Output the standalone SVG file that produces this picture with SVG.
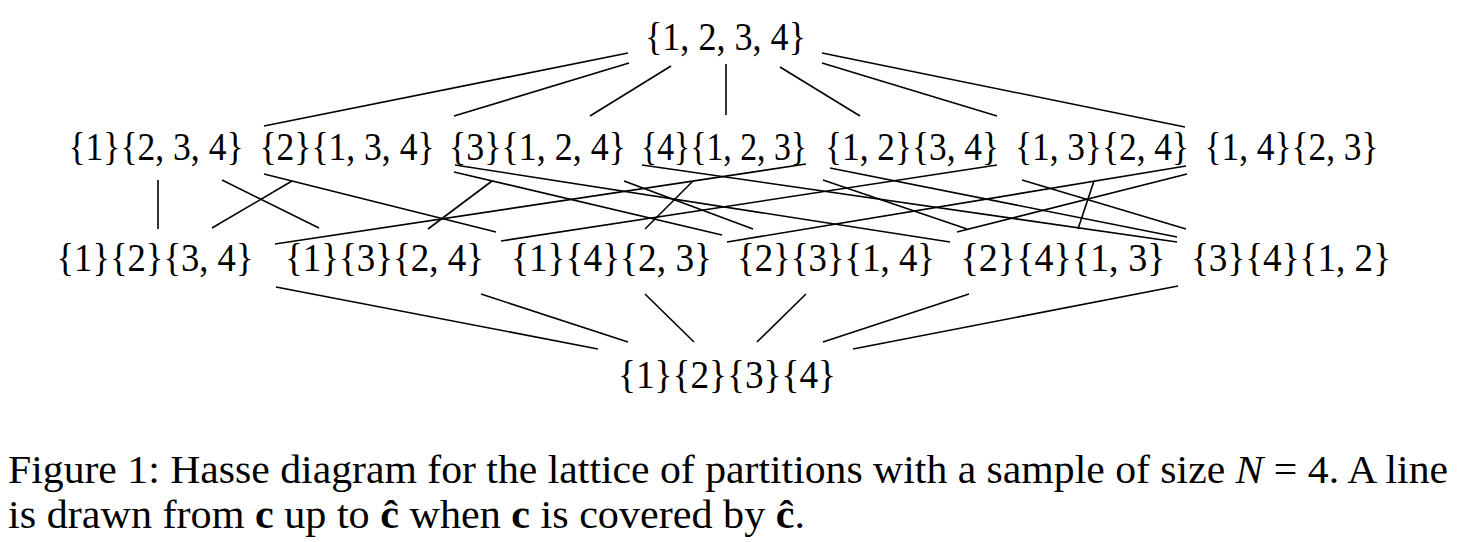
<svg xmlns="http://www.w3.org/2000/svg" width="1462" height="542" viewBox="0 0 1462 542">
<style>
.n{font-family:"Liberation Serif","DejaVu Serif",serif;font-size:40px;fill:#000;text-anchor:middle}
.cap{font-family:"Liberation Serif","DejaVu Serif",serif;font-size:39px;fill:#000}
.e{stroke:#000;stroke-width:1.6;fill:none;stroke-linecap:butt}
</style>
<rect x="0" y="0" width="1462" height="542" fill="#fff"/>
<g id="connectors" class="e">
<line x1="628" y1="53" x2="264" y2="126"/>
<line x1="629" y1="63" x2="454" y2="116"/>
<line x1="671" y1="66" x2="590" y2="116"/>
<line x1="726" y1="64" x2="726" y2="115"/>
<line x1="780" y1="67" x2="860" y2="116"/>
<line x1="822" y1="63" x2="997" y2="116"/>
<line x1="822" y1="53" x2="1185" y2="127"/>
<line x1="158" y1="180" x2="158" y2="229"/>
<line x1="222" y1="180" x2="319" y2="228"/>
<line x1="292" y1="181" x2="212" y2="228"/>
<line x1="264" y1="174" x2="496" y2="232"/>
<line x1="492" y1="181" x2="428" y2="229"/>
<line x1="806" y1="164" x2="275" y2="244"/>
<line x1="693" y1="181" x2="645" y2="229"/>
<line x1="454" y1="172" x2="722" y2="235"/>
<line x1="624" y1="181" x2="753" y2="229"/>
<line x1="455" y1="165" x2="950" y2="242"/>
<line x1="642" y1="165" x2="1177" y2="242"/>
<line x1="830" y1="168" x2="1177" y2="237"/>
<line x1="997" y1="165" x2="501" y2="241"/>
<line x1="823" y1="180" x2="967" y2="229"/>
<line x1="1022" y1="180" x2="1186" y2="229"/>
<line x1="1094" y1="181" x2="1078" y2="229"/>
<line x1="1186" y1="166" x2="727" y2="242"/>
<line x1="1187" y1="174" x2="957" y2="232"/>
<line x1="276" y1="287" x2="598" y2="349"/>
<line x1="481" y1="294" x2="628" y2="342"/>
<line x1="645" y1="294" x2="694" y2="342"/>
<line x1="806" y1="294" x2="757" y2="342"/>
<line x1="969" y1="294" x2="823" y2="342"/>
<line x1="1178" y1="286" x2="853" y2="349"/>
</g>
<g id="n1234"><text class="n" x="725.5" y="50" textLength="161" lengthAdjust="spacingAndGlyphs">{1, 2, 3, 4}</text></g>
<g id="n1_234"><text class="n" x="156" y="160" textLength="175" lengthAdjust="spacingAndGlyphs">{1}{2, 3, 4}</text></g>
<g id="n2_134"><text class="n" x="347" y="160" textLength="175" lengthAdjust="spacingAndGlyphs">{2}{1, 3, 4}</text></g>
<g id="n3_124"><text class="n" x="537.5" y="160" textLength="177" lengthAdjust="spacingAndGlyphs">{3}{1, 2, 4}</text></g>
<g id="n4_123"><text class="n" x="724" y="160" textLength="166" lengthAdjust="spacingAndGlyphs">{4}{1, 2, 3}</text></g>
<g id="n12_34"><text class="n" x="912" y="160" textLength="174" lengthAdjust="spacingAndGlyphs">{1, 2}{3, 4}</text></g>
<g id="n13_24"><text class="n" x="1102" y="160" textLength="174" lengthAdjust="spacingAndGlyphs">{1, 3}{2, 4}</text></g>
<g id="n14_23"><text class="n" x="1291.5" y="160" textLength="174" lengthAdjust="spacingAndGlyphs">{1, 4}{2, 3}</text></g>
<g id="n1_2_34"><text class="n" x="155" y="271" textLength="197" lengthAdjust="spacingAndGlyphs">{1}{2}{3, 4}</text></g>
<g id="n1_3_24"><text class="n" x="384.5" y="271" textLength="199" lengthAdjust="spacingAndGlyphs">{1}{3}{2, 4}</text></g>
<g id="n1_4_23"><text class="n" x="611.5" y="271" textLength="201" lengthAdjust="spacingAndGlyphs">{1}{4}{2, 3}</text></g>
<g id="n2_3_14"><text class="n" x="836" y="271" textLength="198" lengthAdjust="spacingAndGlyphs">{2}{3}{1, 4}</text></g>
<g id="n2_4_13"><text class="n" x="1063" y="271" textLength="205" lengthAdjust="spacingAndGlyphs">{2}{4}{1, 3}</text></g>
<g id="n3_4_12"><text class="n" x="1291" y="271" textLength="200" lengthAdjust="spacingAndGlyphs">{3}{4}{1, 2}</text></g>
<g id="n1_2_3_4"><text class="n" x="727" y="388" textLength="218" lengthAdjust="spacingAndGlyphs">{1}{2}{3}{4}</text></g>
<g id="caption">
<text class="cap" x="8" y="483" textLength="1440" lengthAdjust="spacingAndGlyphs">Figure 1: Hasse diagram for the lattice of partitions with a sample of size <tspan font-style="italic">N</tspan> = 4. A line</text>
<text class="cap" x="8" y="528" textLength="797" lengthAdjust="spacingAndGlyphs">is drawn from <tspan font-weight="bold">c</tspan> up to <tspan font-weight="bold">ĉ</tspan> when <tspan font-weight="bold">c</tspan> is covered by <tspan font-weight="bold">ĉ</tspan>.</text>
</g>
</svg>
